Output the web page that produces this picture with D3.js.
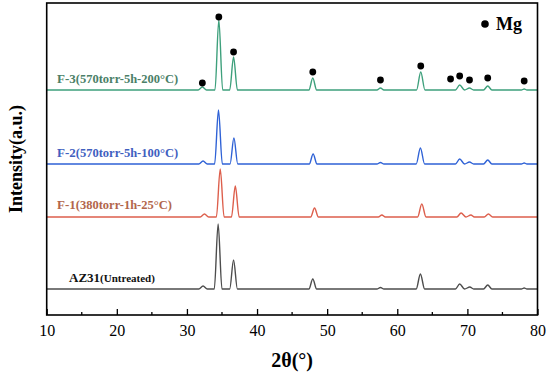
<!DOCTYPE html>
<html>
<head>
<meta charset="utf-8">
<script src="https://cdn.jsdelivr.net/npm/d3@7"></script>
<style>
  body { margin: 0; background: #fff; }
  svg text { font-family: 'Liberation Serif', 'DejaVu Serif', serif; }
</style>
</head>
<body>
<div id="chart"></div>
<script>
'use strict';

// 2theta (deg), intensity above each curve's own baseline (a.u.)
var az31 = [[10, 0], [31.7, 0], [32.3, 3], [32.9, 0], [33.9, 0], [34.45, 65], [35.0, 0], [36.1, 0], [36.65, 29], [37.2, 0],
  [47.4, 0], [47.95, 10], [48.5, 0], [57.1, 0], [57.6, 1.5], [58.1, 0], [62.7, 0], [63.3, 15], [63.9, 0],
  [68.3, 0], [68.9, 5], [69.6, 0], [70.35, 2], [70.9, 0], [72.3, 0], [72.9, 4], [73.5, 0], [77.7, 0], [78.1, 1], [78.5, 0], [80, 0]];
var f1 = [[10, 0], [31.9, 0], [32.5, 3], [33.1, 0], [34.2, 0], [34.75, 48], [35.3, 0], [36.35, 0], [36.9, 31], [37.45, 0],
  [47.65, 0], [48.2, 9], [48.75, 0], [57.3, 0], [57.8, 2], [58.3, 0], [62.9, 0], [63.5, 13], [64.1, 0],
  [68.5, 0], [69.1, 4], [69.8, 0], [70.5, 2], [71.0, 0], [72.4, 0], [73.0, 3], [73.6, 0], [80, 0]];
var f2 = [[10, 0], [31.7, 0], [32.3, 3], [32.9, 0], [33.95, 0], [34.5, 54], [35.05, 0], [36.15, 0], [36.7, 26], [37.25, 0],
  [47.45, 0], [48.0, 10], [48.55, 0], [57.1, 0], [57.6, 1.5], [58.1, 0], [62.7, 0], [63.3, 16], [63.9, 0],
  [68.3, 0], [68.9, 5], [69.6, 0], [70.3, 2], [70.9, 0], [72.3, 0], [72.9, 4], [73.5, 0], [77.7, 0], [78.1, 1], [78.5, 0], [80, 0]];
var f3 = [[10, 0], [31.6, 0], [32.2, 3], [32.8, 0], [34.0, 0], [34.55, 70], [35.1, 0], [36.1, 0], [36.65, 33], [37.2, 0],
  [47.4, 0], [47.95, 12], [48.5, 0], [57.1, 0], [57.6, 2], [58.1, 0], [62.75, 0], [63.35, 18], [63.95, 0],
  [68.3, 0], [68.9, 5], [69.6, 0], [70.3, 2], [70.9, 0], [72.3, 0], [72.9, 4], [73.5, 0], [77.7, 0], [78.1, 1], [78.5, 0], [80, 0]];

// Mg markers over F-3 (2theta, height above F-3 baseline)
var mgMarks = [[32.2, 7], [34.55, 73], [36.65, 38], [47.95, 18], [57.6, 10], [63.35, 24], [67.6, 11], [68.9, 14], [70.3, 10], [72.9, 12], [78.1, 9]];

var names = ['AZ31', 'F-1', 'F-2', 'F-3'];
var subNames = ['(Untreated)', '(380torr-1h-25°C)', '(570torr-5h-100°C)', '(570torr-5h-200°C)'];
var offsets = [26, 98, 151, 225];
var xTicks = [10, 20, 30, 40, 50, 60, 70, 80];

var lineColors = ['#4d4d4d', '#dd5f4c', '#2f62d6', '#3ea07c'];
var labelColors = ['#111111', '#b2664c', '#3f60bf', '#4b7f68'];

var serif = "'Liberation Serif', 'DejaVu Serif', serif";
var W = 550, H = 378;
var mLeft = 46.7, mRight = 537.5, mTop = 3, mBottom = 315;

var svg = d3.select('#chart').append('svg').attr('width', W).attr('height', H);

var x = d3.scaleLinear().domain([10, 80]).range([mLeft, mRight]);
var y = d3.scaleLinear().domain([0, 312]).range([mBottom, mTop]);

var series = [az31, f1, f2, f3];

series.forEach(function (s, i) {
  var line = d3.line()
    .x(function (d) { return x(d[0]); })
    .y(function (d) { return y(d[1] + offsets[i]); })
    .curve(d3.curveMonotoneX);
  svg.append('path').datum(s)
    .attr('d', line)
    .attr('fill', 'none')
    .attr('stroke', lineColors[i])
    .attr('stroke-width', 1.4);
});

// labels
var labelX = [69, 57, 57, 57];
var labelDy = [7, 8, 7, 7];
names.forEach(function (n, i) {
  var t = svg.append('text')
    .attr('x', labelX[i])
    .attr('y', y(offsets[i]) - labelDy[i])
    .attr('fill', labelColors[i])
    .attr('font-family', serif)
    .attr('font-weight', 'bold');
  t.append('tspan').attr('font-size', 13).text(n);
  t.append('tspan').attr('font-size', i == 0 ? 11 : 12.5).text(subNames[i]);
});

// Mg dots
svg.selectAll('circle.mg').data(mgMarks).enter().append('circle')
  .attr('class', 'mg')
  .attr('cx', function (d) { return x(d[0]); })
  .attr('cy', function (d) { return y(d[1] + offsets[3]); })
  .attr('r', 3.4)
  .attr('fill', '#000');

// legend
svg.append('circle').attr('cx', 485).attr('cy', 24).attr('r', 3.8).attr('fill', '#000');
svg.append('text').attr('x', 496).attr('y', 30).attr('font-family', serif)
  .attr('font-size', 18).attr('font-weight', 'bold').text('Mg');

// frame
svg.append('rect').attr('x', mLeft).attr('y', mTop).attr('width', mRight - mLeft).attr('height', mBottom - mTop)
  .attr('fill', 'none').attr('stroke', '#000').attr('stroke-width', 1.6);

// x axis ticks inward
var xAxis = d3.axisBottom(x).tickValues(xTicks).tickSize(-6).tickPadding(10).tickFormat(d3.format('d'));
var gx = svg.append('g').attr('transform', 'translate(0,' + mBottom + ')').call(xAxis);
gx.attr('font-family', serif).attr('font-size', 16);
gx.select('.domain').remove();
gx.selectAll('.tick line').attr('stroke', '#000').attr('stroke-width', 1.3);
gx.selectAll('.tick text').attr('fill', '#000');

var minor = d3.range(15, 80, 10);
svg.selectAll('line.minor').data(minor).enter().append('line')
  .attr('class', 'minor')
  .attr('x1', function (d) { return x(d); }).attr('x2', function (d) { return x(d); })
  .attr('y1', mBottom).attr('y2', mBottom - 3)
  .attr('stroke', '#000').attr('stroke-width', 1.3);

// axis titles
svg.append('text').attr('x', (mLeft + mRight) / 2).attr('y', 367).attr('text-anchor', 'middle')
  .attr('font-family', serif).attr('font-size', 20).attr('font-weight', 'bold').text('2θ(°)');
svg.append('text').attr('transform', 'translate(22,' + (mTop + mBottom) / 2 + ') rotate(-90)')
  .attr('text-anchor', 'middle').attr('font-family', serif)
  .attr('font-size', 18).attr('font-weight', 'bold').text('Intensity(a.u.)');
</script>
</body>
</html>
